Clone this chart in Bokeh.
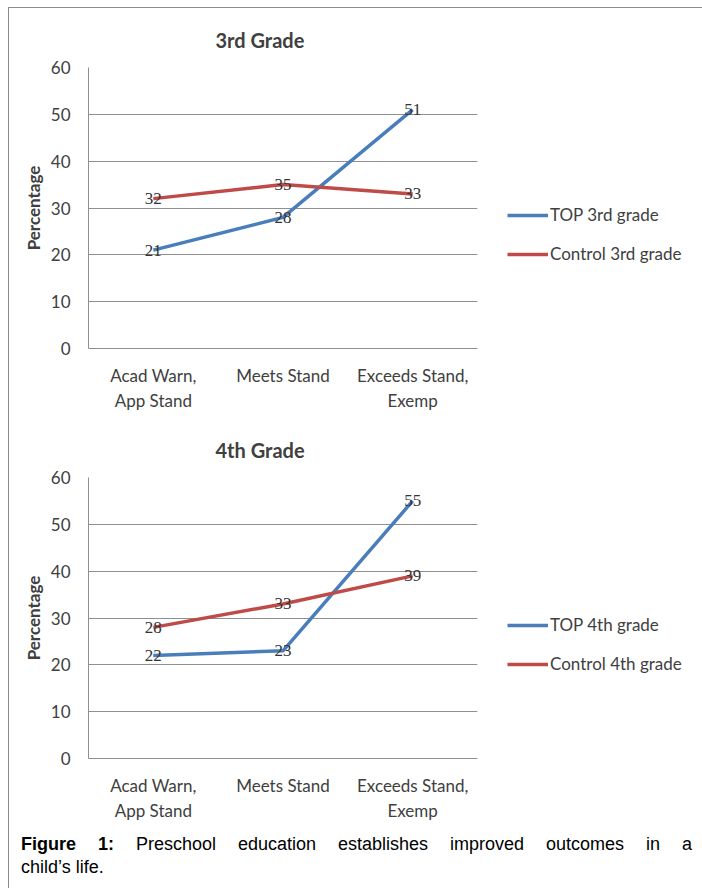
from bokeh.plotting import figure
from bokeh.models import (Range1d, FactorRange, FixedTicker, Legend, LegendItem,
                          ColumnDataSource, Title, Div, LabelSet)
from bokeh.layouts import column
from bokeh.embed import file_html
from bokeh.resources import INLINE

categories = ["Acad Warn,\nApp Stand", "Meets Stand", "Exceeds Stand,\nExemp"]
top_3rd = [21, 28, 51]
control_3rd = [32, 35, 33]
top_4th = [22, 23, 55]
control_4th = [28, 33, 39]
y_ticks = [0, 10, 20, 30, 40, 50, 60]

BLUE = "#4A7EBB"
RED = "#BE4B48"
GRID = "#8f8f8f"
TXT = "#404040"
FONT = "Lato"


def make_chart(title, top_vals, ctrl_vals, top_name, ctrl_name, border_top, border_bottom):
    p = figure(frame_width=389, frame_height=281, x_range=FactorRange(*categories, range_padding=0),
               y_range=Range1d(0, 60), output_backend="svg", toolbar_location=None,
               min_border_left=79, min_border_right=216, min_border_top=border_top,
               min_border_bottom=border_bottom)
    p.outline_line_color = None
    p.xgrid.grid_line_color = None
    p.ygrid.grid_line_color = GRID
    p.ygrid.grid_line_width = 1
    p.yaxis.ticker = FixedTicker(ticks=y_ticks)
    for ax in (p.xaxis, p.yaxis):
        ax.axis_line_color = GRID
        ax.major_tick_line_color = None
        ax.minor_tick_line_color = None
        ax.major_tick_in = 0
        ax.major_tick_out = 0
        ax.major_label_text_font = FONT
        ax.major_label_text_font_size = "17px"
        ax.major_label_text_color = TXT
    p.yaxis.major_label_standoff = 18
    p.xaxis.major_label_standoff = 16
    p.yaxis.axis_label = "Percentage"
    p.yaxis.axis_label_text_font = FONT
    p.yaxis.axis_label_text_font_style = "bold"
    p.yaxis.axis_label_text_font_size = "17px"
    p.yaxis.axis_label_text_color = TXT
    p.yaxis.axis_label_standoff = 4

    t = Title(text=title, align="left", offset=127, text_font=FONT, text_font_size="20px",
              text_font_style="bold", text_color=TXT, standoff=31)
    p.add_layout(t, "above")

    src_top = ColumnDataSource(dict(x=categories, y=top_vals, lbl=[str(v) for v in top_vals]))
    src_ctrl = ColumnDataSource(dict(x=categories, y=ctrl_vals, lbl=[str(v) for v in ctrl_vals]))
    r_top = p.line("x", "y", source=src_top, line_color=BLUE, line_width=3.5)
    r_ctrl = p.line("x", "y", source=src_ctrl, line_color=RED, line_width=3.5)
    for src in (src_top, src_ctrl):
        p.add_layout(LabelSet(x="x", y="y", text="lbl", source=src, text_align="center",
                              text_baseline="middle", text_font=FONT, text_font_size="17px",
                              text_color="#333333"))

    legend = Legend(items=[LegendItem(label=top_name, renderers=[r_top]),
                           LegendItem(label=ctrl_name, renderers=[r_ctrl])],
                    location=(30, 84), padding=0, margin=0, spacing=18,
                    glyph_width=41, glyph_height=20, label_standoff=2,
                    label_text_font=FONT, label_text_font_size="17px", label_text_color=TXT,
                    border_line_color=None, background_fill_alpha=0)
    p.add_layout(legend, "right")
    return p


p1 = make_chart("3rd Grade", top_3rd, control_3rd, "TOP 3rd grade", "Control 3rd grade", 59, 72)
p2 = make_chart("4th Grade", top_4th, control_4th, "TOP 4th grade", "Control 4th grade", 57, 70)

caption = Div(width=684, height=50, text=(
    "<div style=\"font-family:'Liberation Sans',Arial,sans-serif;font-size:18px;line-height:23px;"
    "color:#000;padding:0;margin-left:7px;width:671px;\">"
    "<div style=\"text-align:justify;text-align-last:justify;\"><b>Figure 1:</b> Preschool education "
    "establishes improved outcomes in a</div><div>child\u2019s life.</div></div>"))

layout = column(p1, p2, caption, spacing=0,
                styles={"border-left": "1px solid #8a8a8a", "border-top": "1px solid #8a8a8a",
                        "margin-left": "8px", "margin-top": "7px"})

open("out.html", "w").write(file_html(layout, INLINE))
